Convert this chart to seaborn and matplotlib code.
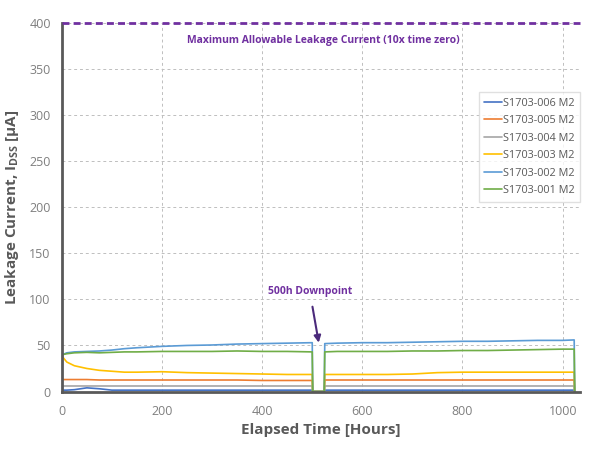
import numpy as np
import pandas as pd
import matplotlib
matplotlib.use("Agg")
import matplotlib.pyplot as plt
import seaborn as sns
from matplotlib.ticker import MultipleLocator

# ---------------------------------------------------------------------------
# Data (hours, leakage current in uA)
# ---------------------------------------------------------------------------

HOURS = [0, 1, 10, 25, 50, 75, 100, 125, 150, 200, 250, 300, 350, 400, 450,
         500, 501, 524, 525, 550, 600, 650, 700, 750, 800, 850, 900, 950,
         1000, 1023, 1024]

S006 = [0, 1.5, 1.5, 2, 4, 3, 1.5, 1.5, 1.5, 1.5, 1.5, 1.5, 1.5, 1.5, 1.5,
        1.5, 0, 0, 1.5, 1.5, 1.5, 1.5, 1.5, 1.5, 1.5, 1.5, 1.5, 1.5,
        1.5, 1.5, 0]
S005 = [0, 13, 13, 13, 13, 12.5, 12.5, 12.5, 12.5, 12.5, 12.5, 12.5, 12.5, 12, 12,
        12, 0, 0, 12.5, 12.5, 12.5, 12.5, 12.5, 12.5, 12.5, 12.5, 12.5, 12.5,
        12.5, 12.5, 0]
S004 = [0, 6, 6, 6, 6, 6, 6, 6, 6, 6, 6, 6, 6, 6, 6,
        6, 0, 0, 6, 6, 6, 6, 6, 6, 6, 6, 6, 6,
        6, 6, 0]
S003 = [0, 38, 32, 28, 25, 23, 22, 21, 21, 21.5, 20.5, 20, 19.5, 19, 18.5,
        18.5, 0, 0, 18.5, 18.5, 18.5, 18.5, 19, 20.5, 21, 21, 21, 21,
        21, 21, 0]
S002 = [0, 40, 42, 43, 43.5, 44, 45, 46.5, 47.5, 49, 50, 50.5, 51.5, 52, 52.5,
        53, 0, 0, 52, 52.5, 53, 53, 53.5, 54, 54.5, 54.5, 55, 55.5,
        55.5, 56, 0]
S001 = [0, 40, 41, 42, 42.5, 42, 42.5, 43, 43, 43.5, 43.5, 43.5, 44, 43.5, 43.5,
        43, 0, 0, 43, 43.5, 43.5, 43.5, 44, 44, 44.5, 44.5, 45, 45.5,
        46, 46, 0]

SERIES = {
    'S1703-006 M2': S006,
    'S1703-005 M2': S005,
    'S1703-004 M2': S004,
    'S1703-003 M2': S003,
    'S1703-002 M2': S002,
    'S1703-001 M2': S001,
}
COLORS = ['#4472C4', '#ED7D31', '#A5A5A5', '#FFC000', '#5B9BD5', '#70AD47']

LIMIT = 400
PURPLE = '#7030A0'
GREY = '#595959'

# ---------------------------------------------------------------------------
# Plot
# ---------------------------------------------------------------------------

sns.set_theme(style='white')
plt.rcParams['font.family'] = ['Open Sans', 'DejaVu Sans']
plt.rcParams['mathtext.fontset'] = 'custom'
plt.rcParams['mathtext.rm'] = 'Open Sans'
plt.rcParams['mathtext.bf'] = 'Open Sans:bold'

frames = [pd.DataFrame({'Hours': HOURS, 'Current': vals, 'Sample': name})
          for name, vals in SERIES.items()]
df = pd.concat(frames, ignore_index=True)

fig = plt.figure(figsize=(6.0, 4.49), dpi=100)
ax = fig.add_axes([0.103, 0.128, 0.864, 0.821])

sns.lineplot(data=df, x='Hours', y='Current', hue='Sample',
             hue_order=list(SERIES.keys()), palette=COLORS,
             estimator=None, sort=False, linewidth=1.2, ax=ax)

ax.axhline(LIMIT, color=PURPLE, linestyle=(0, (2.5, 1.5)), linewidth=2,
           clip_on=False, zorder=5)

ax.set_xlim(0, 1035)
ax.set_ylim(0, 400)
ax.xaxis.set_major_locator(MultipleLocator(200))
ax.xaxis.set_minor_locator(MultipleLocator(40))
ax.yaxis.set_major_locator(MultipleLocator(50))
ax.yaxis.set_minor_locator(MultipleLocator(10))

ax.grid(True, which='major', color='#BFBFBF', linestyle=(0, (3, 3)), linewidth=0.7)
for side in ['top', 'right']:
    ax.spines[side].set_visible(False)
for side in ['left', 'bottom']:
    ax.spines[side].set_color(GREY)
    ax.spines[side].set_linewidth(2)

ax.tick_params(which='major', direction='inout', length=8, width=1.5,
               color=GREY, labelcolor='#7F7F7F', labelsize=9, pad=4)
ax.tick_params(which='minor', direction='in', length=3, width=1, color=GREY)
ax.tick_params(axis='x', which='major', pad=6)

ax.set_xlabel('Elapsed Time [Hours]', fontsize=11, fontweight='bold', color=GREY,
              labelpad=3)
ax.set_ylabel(r'Leakage Current, I$_{\mathbf{DSS}}$ [µA]', fontsize=11,
              fontweight='bold', color=GREY, labelpad=6)

ax.text(523, 381, 'Maximum Allowable Leakage Current (10x time zero)',
        ha='center', va='center', fontsize=7.5, fontweight='bold', color=PURPLE)
ax.annotate('500h Downpoint', xy=(513, 53), xytext=(495, 109),
            ha='center', va='center', fontsize=7.5, fontweight='bold', color=PURPLE,
            arrowprops=dict(arrowstyle='-|>', color='#4B2A7B', lw=1.5,
                            shrinkA=5, shrinkB=0, mutation_scale=10))

leg = ax.legend(loc='upper right', bbox_to_anchor=(1.0, 0.812), fontsize=7.8,
                frameon=True, fancybox=False, handlelength=1.65,
                handletextpad=0.1, labelspacing=0.6, borderpad=0.5,
                borderaxespad=0)
leg.get_frame().set_edgecolor('#D9D9D9')
leg.get_frame().set_linewidth(1)
for t in leg.get_texts():
    t.set_color(GREY)
for h in leg.get_lines():
    h.set_linewidth(1.2)

fig.savefig('out.png', dpi=100)
